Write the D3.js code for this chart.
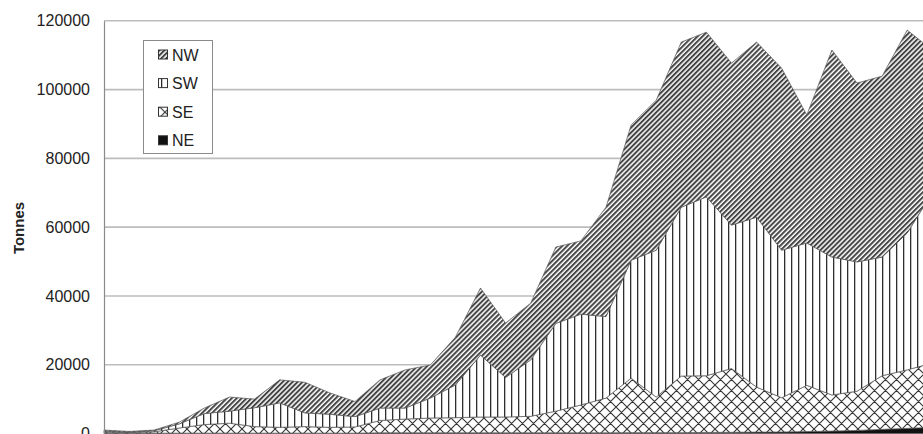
<!DOCTYPE html>
<html><head><meta charset="utf-8">
<script src="https://cdn.jsdelivr.net/npm/d3@7/dist/d3.min.js"></script>
<style>body{margin:0;background:#fff}svg{display:block}</style>
</head><body>
<svg id="c" width="923" height="434"></svg>
<script>
const years = d3.range(1970, 2004).map(String);
const NW = [300,200,200,500,1600,4100,2500,6700,8900,6200,4400,8200,11100,9600,13900,19500,15800,16500,22200,21300,31800,39300,43600,48000,47900,47100,50900,52900,37200,60200,52000,52600,59000,41500];
const SW = [300,100,300,1200,3200,3500,5500,7100,4000,3800,3000,3600,3200,5800,9500,18000,11500,16400,25500,26400,23700,34300,42700,49100,52000,41700,49400,42900,41400,40100,37600,34500,39800,49500];
const SE = [300,200,400,1500,2500,2900,1900,1700,1900,1700,1800,3600,4000,4300,4400,4600,4600,4800,6300,8100,10100,15850,10350,16450,16500,18550,13100,9950,13450,10500,11400,15600,17000,18700];
const NE = [100,100,100,100,100,100,100,100,100,100,100,200,200,200,200,200,200,200,200,200,200,250,250,250,300,350,400,450,550,700,900,1200,1500,1800];
const yTicks = [0,20000,40000,60000,80000,100000,120000];
const seriesKeys = ["NE","SE","SW","NW"];
const legendKeys = ["NW","SW","SE","NE"];

const data = years.map((y,i)=>({year:y, NW:NW[i], SW:SW[i], SE:SE[i], NE:NE[i]}));

const svg = d3.select("#c");
const defs = svg.append("defs");

const pNW = defs.append("pattern").attr("id","pNW").attr("patternUnits","userSpaceOnUse")
  .attr("width",3.5).attr("height",10).attr("patternTransform","rotate(45)");
pNW.append("rect").attr("width",3.5).attr("height",10).attr("fill","#fff");
pNW.append("rect").attr("x",0).attr("width",2.0).attr("height",10).attr("fill","#454545");

const pSW = defs.append("pattern").attr("id","pSW").attr("patternUnits","userSpaceOnUse")
  .attr("width",7).attr("height",10);
pSW.append("rect").attr("width",7).attr("height",10).attr("fill","#fff");
pSW.append("rect").attr("x",0).attr("width",1.3).attr("height",10).attr("fill","#2e2e2e");

const pSE = defs.append("pattern").attr("id","pSE").attr("patternUnits","userSpaceOnUse")
  .attr("width",11).attr("height",11);
pSE.append("rect").attr("width",11).attr("height",11).attr("fill","#fff");
pSE.append("path").attr("d","M0,0L11,11M11,0L0,11M-1,10L1,12M10,-1L12,1M-1,1L1,-1M10,12L12,10")
  .attr("stroke","#333").attr("stroke-width",1.1).attr("fill","none");

const fills = {NW:"url(#pNW)", SW:"url(#pSW)", SE:"url(#pSE)", NE:"#111"};

const x = d3.scalePoint().domain(years).range([104, 104 + 33*25.1]);
const y = d3.scaleLinear().domain([0,120000]).range([433.5, 20.8]);

svg.append("g").selectAll("line").data(yTicks.slice(1)).join("line")
  .attr("x1",104).attr("x2",923).attr("y1",d=>y(d)).attr("y2",d=>y(d))
  .attr("stroke","#bdbdbd").attr("stroke-width",1.6);

const stack = d3.stack().keys(seriesKeys);
const layers = stack(data);
const area = d3.area().x(d=>x(d.data.year)).y0(d=>y(d[0])).y1(d=>y(d[1]));
svg.append("g").selectAll("path").data(layers).join("path")
  .attr("d",area).attr("fill",d=>fills[d.key])
  .attr("stroke","#555").attr("stroke-width",0.7);

const yAxis = d3.axisLeft(y).tickValues(yTicks).tickSize(0).tickPadding(14).tickFormat(d3.format("d"));
const ga = svg.append("g").attr("transform","translate(104,0)").call(yAxis);
ga.select(".domain").attr("stroke","#8a8a8a").attr("stroke-width",1.2);
ga.selectAll("text").attr("font-family","Liberation Sans, Arial, sans-serif").attr("font-size",16).attr("fill","#222");

svg.append("text").attr("transform","translate(24,228) rotate(-90)")
  .attr("text-anchor","middle").attr("font-family","Liberation Sans, Arial, sans-serif")
  .attr("font-weight","bold").attr("font-size",15).attr("fill","#222").text("Tonnes");

const lg = svg.append("g");
lg.append("rect").attr("x",143.5).attr("y",40.5).attr("width",69).attr("height",113)
  .attr("fill","#fff").attr("stroke","#8a8a8a").attr("stroke-width",1);
const items = lg.selectAll("g.it").data(legendKeys).join("g").attr("class","it")
  .attr("transform",(d,i)=>`translate(0,${55 + i*28.6})`);
items.append("rect").attr("x",158.5).attr("y",-5).attr("width",9).attr("height",9)
  .attr("fill",d=>fills[d]).attr("stroke","#333").attr("stroke-width",1);
items.append("text").attr("x",172).attr("y",5.5).attr("font-family","Liberation Sans, Arial, sans-serif")
  .attr("font-size",16).attr("fill","#222").text(d=>d);
</script>
</body></html>
